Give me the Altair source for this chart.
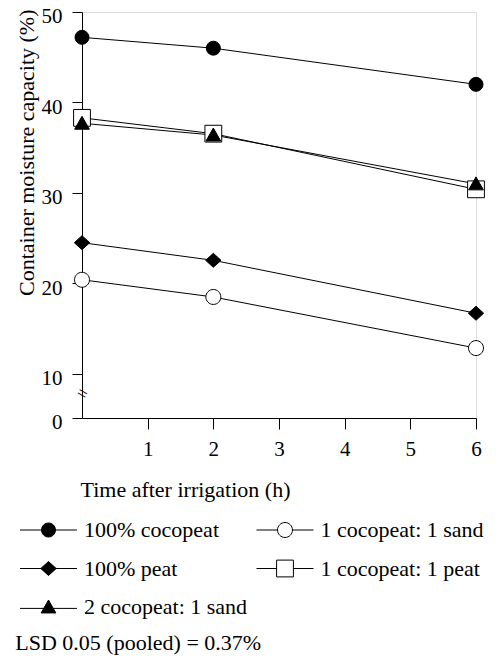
import altair as alt
import pandas as pd

# ---------------- data ----------------
times = [0, 2, 6]
series_names = [
    "100% cocopeat",
    "1 cocopeat: 1 sand",
    "100% peat",
    "1 cocopeat: 1 peat",
    "2 cocopeat: 1 sand",
]
coco100 = [47.2, 46.0, 42.0]
coco_sand_11 = [20.4, 18.5, 12.85]
peat100 = [24.5, 22.55, 16.7]
coco_peat_11 = [38.3, 36.55, 30.4]
coco_sand_21 = [37.7, 36.4, 31.0]

# legend order (column-major: left column first, then right column)
legend_order = [
    "100% cocopeat",
    "100% peat",
    "2 cocopeat: 1 sand",
    "1 cocopeat: 1 sand",
    "1 cocopeat: 1 peat",
]

y_tick_values = [5.12, 10, 20, 30, 40, 50]
x_tick_values = [1, 2, 3, 4, 5, 6]
break_mark = {"time": 0, "value": 7.75, "text": "="}
lsd_text = "LSD 0.05 (pooled) = 0.37%"

all_values = [coco100, coco_sand_11, peat100, coco_peat_11, coco_sand_21]
rows = []
for name, vals in zip(series_names, all_values):
    for t, v in zip(times, vals):
        rows.append({"series": name, "time": t, "value": v})
df = pd.DataFrame(rows)
break_df = pd.DataFrame([break_mark])

# ---------------- symbols ----------------
open_circle = "M-1.07,0A1.07,1.07,0,1,0,1.07,0A1.07,1.07,0,1,0,-1.07,0Z"
diamond = "M-1.1,0L0,-1L1.1,0L0,1Z"
square = "M-1.2,-1.2H1.2V1.2H-1.2Z"
triangle = "M0,-1L1.05,0.85L-1.05,0.85Z"
plot_shapes = {
    "100% cocopeat": "circle",
    "1 cocopeat: 1 sand": open_circle,
    "100% peat": diamond,
    "1 cocopeat: 1 peat": square,
    "2 cocopeat: 1 sand": triangle,
}
fills = {
    "100% cocopeat": "black",
    "1 cocopeat: 1 sand": "white",
    "100% peat": "black",
    "1 cocopeat: 1 peat": "white",
    "2 cocopeat: 1 sand": "black",
}

L = 4.07
legend_shapes = {
    "100% cocopeat": f"M-{L},0H{L}M-1,0A1,1,0,1,0,1,0A1,1,0,1,0,-1,0Z",
    "1 cocopeat: 1 sand": f"M-{L},0H-1.07M1.07,0H{L}" + open_circle,
    "100% peat": f"M-{L},0H{L}" + diamond,
    "1 cocopeat: 1 peat": f"M-{L},0H-1.2M1.2,0H{L}" + square,
    "2 cocopeat: 1 sand": f"M-{L},0.2H{L}" + triangle,
}

FONT = "Liberation Serif"

x_enc = alt.X(
    "time:Q",
    scale=alt.Scale(domain=[0, 6], nice=False, zero=False),
    axis=alt.Axis(
        values=x_tick_values,
        title="Time after irrigation (h)",
        titleAnchor="start",
        titleAlign="left",
        titleBaseline="alphabetic",
        titleX=-2,
        titleY=78.4,
        titleFont=FONT,
        titleFontSize=22,
        titleFontWeight="normal",
        titleColor="black",
        labelFont=FONT,
        labelFontSize=21,
        labelColor="black",
        labelBaseline="alphabetic",
        labelPadding=26,
        labelFlush=False,
        labelOverlap=False,
        tickSize=11,
        tickColor="black",
        domainColor="black",
        grid=False,
    ),
)
y_enc = alt.Y(
    "value:Q",
    scale=alt.Scale(domain=[5.12, 50], nice=False, zero=False),
    axis=alt.Axis(
        values=y_tick_values,
        labelExpr="datum.value < 6 ? '0' : datum.label",
        title="Container moisture capacity (%)",
        titleAngle=270,
        titleAlign="right",
        titleBaseline="alphabetic",
        titleX=-48.7,
        titleY=-3,
        titleFont=FONT,
        titleFontSize=22,
        titleFontWeight="normal",
        titleColor="black",
        labelFont=FONT,
        labelFontSize=21,
        labelColor="black",
        labelBaseline="alphabetic",
        labelOffset=10.7,
        labelPadding=10,
        labelFlush=False,
        labelOverlap=False,
        tickSize=10,
        tickColor="black",
        domainColor="black",
        grid=False,
    ),
)

lines = alt.Chart(df).mark_line(color="black", strokeWidth=1).encode(
    x=x_enc, y=y_enc, detail="series:N"
)

point_layers = []
for name in series_names:
    point_layers.append(
        alt.Chart(df)
        .transform_filter(alt.datum.series == name)
        .mark_point(
            shape=plot_shapes[name],
            fill=fills[name],
            stroke="black",
            strokeWidth=1,
            opacity=1,
            fillOpacity=1,
            size=196,
        )
        .encode(x=x_enc, y=y_enc)
    )

leg = alt.Legend(
    title=None,
    orient="none",
    legendX=-44.5,
    legendY=507,
    columns=2,
    columnPadding=6.5,
    rowPadding=16.5,
    padding=0,
    labelFont=FONT,
    labelFontSize=22,
    labelColor="black",
    labelOffset=24.5,
    labelLimit=400,
    symbolSize=196,
    symbolStrokeWidth=1,
)

legend_layer = alt.Chart(df).transform_filter("false").mark_point(
    strokeWidth=1, opacity=1, size=196
).encode(
    x=x_enc,
    y=y_enc,
    shape=alt.Shape(
        "series:N",
        scale=alt.Scale(domain=legend_order, range=[legend_shapes[n] for n in legend_order]),
        legend=leg,
    ),
    fill=alt.Fill(
        "series:N",
        scale=alt.Scale(domain=legend_order, range=[fills[n] for n in legend_order]),
        legend=leg,
    ),
    stroke=alt.Stroke(
        "series:N",
        scale=alt.Scale(domain=legend_order, range=["black"] * len(legend_order)),
        legend=leg,
    ),
)

brk = alt.Chart(break_df).mark_text(
    font=FONT, fontSize=18, angle=30, align="center", baseline="middle", color="black"
).encode(x=x_enc, y=y_enc, text="text:N")

chart = (
    alt.layer(lines, *point_layers, legend_layer, brk)
    .properties(
        width=394,
        height=406,
        autosize=alt.AutoSizeParams(type="none"),
        padding={"left": 74, "top": 4, "right": 16, "bottom": 238},
        title=alt.TitleParams(
            lsd_text,
            orient="bottom",
            anchor="start",
            font=FONT,
            fontSize=22,
            fontWeight="normal",
            color="black",
            dx=0,
            offset=15,
        ),
    )
    .configure_view(stroke=None)
    .configure(background="white")
)

chart.save("out.html", embed_options={"renderer": "svg", "actions": False})
